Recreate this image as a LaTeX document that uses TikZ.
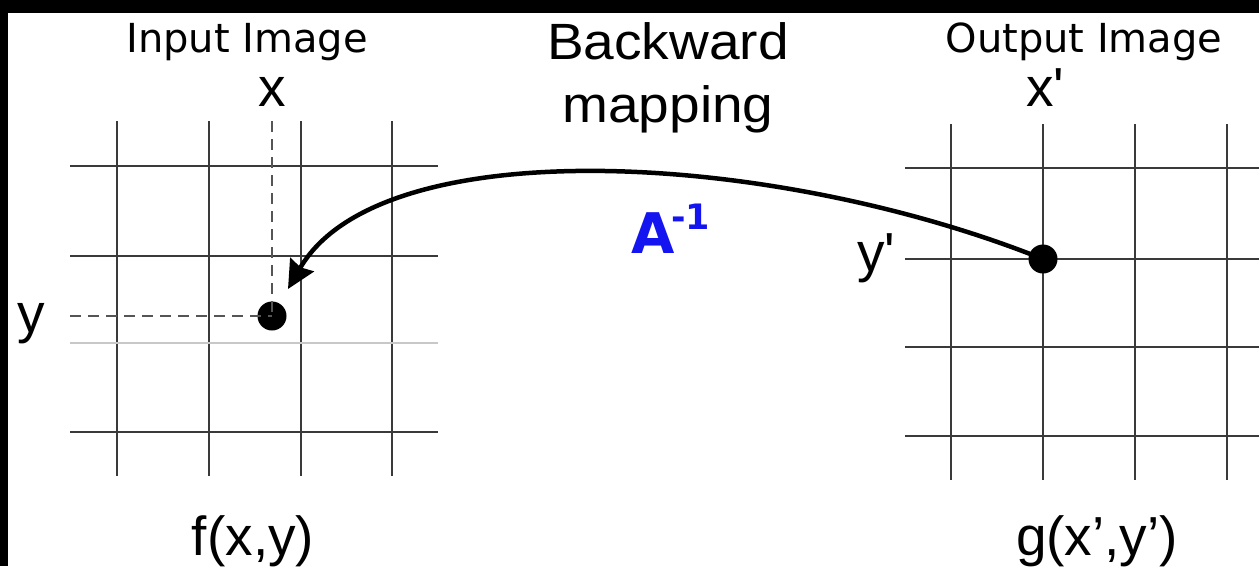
\documentclass[tikz,border=0pt]{standalone}
\usepackage{fontspec}
\setmainfont{Liberation Sans}[Ligatures=TeXOff]
\newfontfamily\verd{DejaVu Sans}
\newfontfamily\helvw{Liberation Sans}[FakeStretch=1.08]
\usetikzlibrary{arrows.meta}
\definecolor{gridc}{HTML}{3A3A3A}
\definecolor{lightc}{HTML}{C8C8C8}
\definecolor{dashc}{HTML}{555555}
\definecolor{ablue}{RGB}{20,20,240}
\tikzset{
  gridline/.style={draw=gridc, line width=2.2pt},
  lightline/.style={draw=lightc, line width=1.5pt},
  guide/.style={draw=dashc, line width=2.2pt, dash pattern=on 11pt off 7pt},
  ptdot/.style={circle, fill=black, inner sep=0pt, minimum size=29pt},
  title/.style={anchor=base, inner sep=0pt, font=\verd\fontsize{40}{44}\selectfont},
  lab/.style={anchor=base, inner sep=0pt, font=\fontsize{55}{60}\selectfont},
  maplab/.style={anchor=base, inner sep=0pt, font=\helvw\fontsize{51}{54}\selectfont},
  ablab/.style={inner sep=0pt, text=ablue, font=\verd\bfseries},
  maparrow/.style={line width=4.5pt, -{Stealth[length=28pt,width=27pt,inset=3pt]}}
}
\begin{document}
\begin{tikzpicture}[x=1pt,y=-1pt]
\useasboundingbox (0,0) rectangle (1259,566);
\fill[white] (0,0) rectangle (1259,566);
\fill[black] (0,0) rectangle (1259,13);
\fill[black] (0,0) rectangle (8,566);

% left grid
\foreach \gx in {117,209,301,392} \draw[gridline] (\gx,121) -- (\gx,476);
\foreach \gy in {166,256,432} \draw[gridline] (70,\gy) -- (438,\gy);
\draw[lightline] (70,343) -- (438,343);

% right grid
\foreach \gx in {951,1043,1135,1227} \draw[gridline] (\gx,124) -- (\gx,480);
\foreach \gy in {168,259,347,436} \draw[gridline] (905,\gy) -- (1259,\gy);

% points
\node[ptdot] (dotin) at (272,316) {};
\node[ptdot] (dotout) at (1043,259) {};
\coordinate (xtop) at (272,121);
\coordinate (yleft) at (70,316);
\draw[guide] (xtop) -- (dotin.center);
\draw[guide] (yleft) -- (dotin.center);

% arrow
\coordinate (tip) at (288,289);
\draw[maparrow] (dotout.center) .. controls (770,150) and (380,130) .. (tip);

% labels
\node[title] (tin) at (247,52) {Input Image};
\node[title] (tout) at (1084,52) {Output Image};
\node[maplab] (bw) at (668,59) {Backward};
\node[maplab] (mp) at (668,122) {mapping};
\node[lab] (lx) at (272,106) {x};
\node[lab] (lxp) at (1045,106) {x'};
\node[lab] (ly) at (31,332) {y};
\node[lab] (lyp) at (876,271) {y'};
\node[lab] (fxy) at (253,555) {f(x,y)};
\node[lab] (gxy) at (1097,555) {g(x’,y’)};
\node[ablab, anchor=base, font=\verd\bfseries\fontsize{56}{60}\selectfont] (amat) at (653,253) {A};
\node[ablab, anchor=base west, font=\verd\bfseries\fontsize{35}{38}\selectfont] (ainv) at (671,229) {-1};
\end{tikzpicture}
\end{document}
